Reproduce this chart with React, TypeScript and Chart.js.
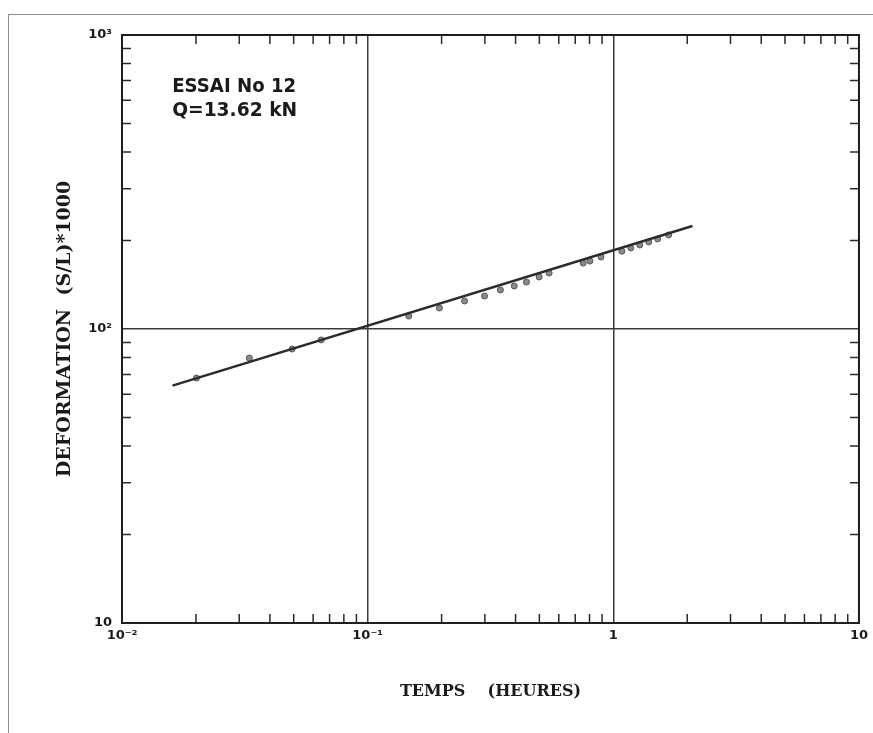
import React, { useEffect, useRef } from "react";
import { Chart, registerables } from "chart.js";

Chart.register(...registerables);

// Axis ticks
const xTickValues = [0.01, 0.1, 1, 10];
const xTickLabels = ["10⁻²", "10⁻¹", "1", "10"];
const yTickValues = [10, 100, 1000];
const yTickLabels = ["10", "10²", "10³"];

// Measured points (time in hours, deformation (S/L)*1000)
const timeHours = [
  0.0201, 0.033, 0.0493, 0.0647, 0.147, 0.196, 0.248, 0.299, 0.347, 0.395, 0.443,
  0.499, 0.548, 0.754, 0.803, 0.891, 1.084, 1.178, 1.282, 1.394, 1.516, 1.68,
];
const deformation = [
  68.1, 79.7, 85.5, 91.8, 110.7, 117.9, 124.5, 129.5, 135.8, 140, 144.5,
  150.3, 155, 167.6, 170.3, 175.7, 184, 188.7, 193.1, 197.7, 202.4, 208.8,
];

// Fitted line end points
const fitTime = [0.01605, 2.1];
const fitDeformation = [64.2, 224];

const annotationLines = ["ESSAI No 12", "Q=13.62 kN"];
const xTitle = "TEMPS    (HEURES)";
const yTitle = "DEFORMATION  (S/L)*1000";

const minorMultipliers = [2, 3, 4, 5, 6, 7, 8, 9];

const framePlugin = {
  id: "frameAndMinorTicks",
  afterDraw(chart: any) {
    const { ctx, chartArea, scales } = chart;
    const { left, right, top, bottom } = chartArea;
    ctx.save();
    ctx.strokeStyle = "#2a2a2a";
    ctx.lineWidth = 1.5;
    const len = 9;
    // y minor ticks
    for (let d = 0; d < yTickValues.length - 1; d++) {
      for (const m of minorMultipliers) {
        const v = yTickValues[d] * m;
        const py = scales.y.getPixelForValue(v);
        ctx.beginPath();
        ctx.moveTo(left, py);
        ctx.lineTo(left + len, py);
        ctx.moveTo(right, py);
        ctx.lineTo(right - len, py);
        ctx.stroke();
      }
    }
    // x minor ticks
    for (let d = 0; d < xTickValues.length - 1; d++) {
      for (const m of minorMultipliers) {
        const v = xTickValues[d] * m;
        const px = scales.x.getPixelForValue(v);
        ctx.beginPath();
        ctx.moveTo(px, bottom);
        ctx.lineTo(px, bottom - len);
        ctx.moveTo(px, top);
        ctx.lineTo(px, top + len);
        ctx.stroke();
      }
    }
    // frame
    ctx.lineWidth = 2;
    ctx.strokeStyle = "#1e1e1e";
    ctx.strokeRect(left, top, right - left, bottom - top);

    // annotation
    ctx.fillStyle = "#1a1a1a";
    ctx.font = 'bold 20px "DejaVu Sans"';
    ctx.textBaseline = "alphabetic";
    ctx.textAlign = "left";
    const ax = scales.x.getPixelForValue(0.016);
    ctx.fillText(annotationLines[0], ax, 92, 124);
    ctx.fillText(annotationLines[1], ax, 116, 125);
    ctx.restore();
  },
};

export default function App() {
  const ref = useRef<HTMLCanvasElement>(null);

  useEffect(() => {
    if (!ref.current) return;
    const points = timeHours.map((t, i) => ({ x: t, y: deformation[i] }));
    const fit = fitTime.map((t, i) => ({ x: t, y: fitDeformation[i] }));
    const chart = new Chart(ref.current, {
      type: "scatter",
      data: {
        datasets: [
          {
            type: "line",
            label: "fit",
            data: fit,
            borderColor: "#2b2b2b",
            borderWidth: 2.5,
            pointRadius: 0,
            showLine: true,
            fill: false,
          } as any,
          {
            label: "mesures",
            data: points,
            pointRadius: 3,
            pointBackgroundColor: "#8a8a8a",
            pointBorderColor: "#555",
            pointBorderWidth: 1,
          },
        ],
      },
      options: {
        responsive: false,
        animation: false,
        layout: { padding: { left: 0, right: 11, top: 35, bottom: 0 } },
        plugins: {
          legend: { display: false },
          tooltip: { enabled: false },
        },
        scales: {
          x: {
            type: "logarithmic",
            min: 0.01,
            max: 10,
            afterBuildTicks: (scale: any) => {
              scale.ticks = xTickValues.map((v) => ({ value: v }));
            },
            afterFit: (scale: any) => {
              scale.height = 110;
            },
            grid: { color: "#3a3a3a", lineWidth: 1.5, drawTicks: false },
            border: { display: false },
            ticks: {
              padding: 5,
              maxRotation: 0,
              autoSkip: false,
              color: "#1a1a1a",
              font: { family: "DejaVu Sans", size: 13, weight: "bold" },
              callback: (value: any) => xTickLabels[xTickValues.indexOf(Number(value))],
            },
            title: {
              display: true,
              text: xTitle,
              color: "#1a1a1a",
              font: { family: "DejaVu Serif", size: 16, weight: "bold" },
              padding: { top: 0, bottom: 32 },
            },
          },
          y: {
            type: "logarithmic",
            min: 10,
            max: 1000,
            afterBuildTicks: (scale: any) => {
              scale.ticks = yTickValues.map((v) => ({ value: v }));
            },
            afterFit: (scale: any) => {
              scale.width = 122;
            },
            grid: { color: "#3a3a3a", lineWidth: 1.5, drawTicks: false },
            border: { display: false },
            ticks: {
              padding: 10,
              autoSkip: false,
              color: "#1a1a1a",
              font: { family: "DejaVu Sans", size: 13, weight: "bold" },
              callback: (value: any) => yTickLabels[yTickValues.indexOf(Number(value))],
            },
            title: {
              display: true,
              text: yTitle,
              color: "#1a1a1a",
              font: { family: "DejaVu Serif", size: 19, weight: "bold" },
              padding: { top: 54, bottom: 0 },
            },
          },
        },
      },
      plugins: [framePlugin],
    });
    return () => chart.destroy();
  }, []);

  return (
    <div style={{ position: "absolute", left: 0, top: 0, width: 873, height: 733, background: "#fff" }}>
      <div
        style={{
          position: "absolute",
          left: 8,
          top: 14,
          width: 865,
          height: 719,
          borderTop: "1px solid #8c8c8c",
          borderLeft: "1px solid #8c8c8c",
          boxSizing: "border-box",
        }}
      />
      <canvas ref={ref} width={873} height={733} style={{ position: "absolute", left: 0, top: 0 }} />
    </div>
  );
}
